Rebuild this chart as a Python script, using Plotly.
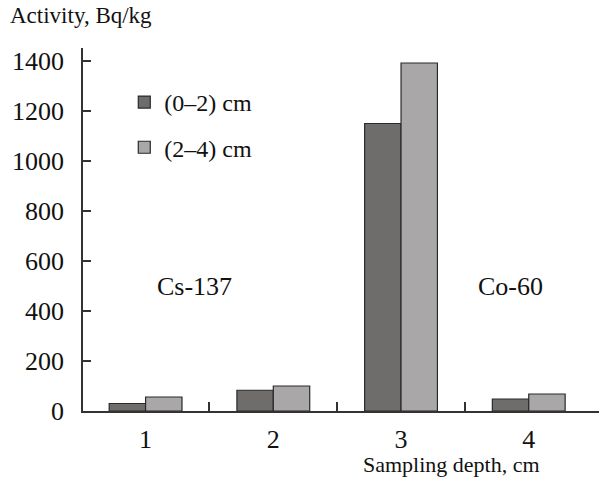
import plotly.graph_objects as go

categories = [1, 2, 3, 4]
depth_0_2 = [30, 83, 1150, 48]
depth_2_4 = [56, 100, 1392, 68]
series_names = ["(0–2) cm", "(2–4) cm"]
y_ticks = [0, 200, 400, 600, 800, 1000, 1200, 1400]

FONT = "Liberation Serif"
fig = go.Figure()
fig.add_bar(x=categories, y=depth_0_2, name=series_names[0], legendgroup="a",
            marker=dict(color="#6f6d6b", line=dict(color="#2a2a2a", width=1.2)))
fig.add_bar(x=categories, y=depth_2_4, name=series_names[1], legendgroup="b",
            marker=dict(color="#a9a7a8", line=dict(color="#2a2a2a", width=1.2)))

fig.update_layout(
    width=613, height=479,
    margin=dict(l=74, r=14, t=48, b=68),
    plot_bgcolor="white", paper_bgcolor="white",
    font=dict(family=FONT, size=26, color="#111"),
    barmode="group", bargap=0.43, bargroupgap=0,
    showlegend=True,
    legend=dict(x=0.08, y=0.912, xanchor="left", yanchor="top",
                font=dict(size=24), tracegroupgap=11, traceorder="grouped",
                bgcolor="rgba(0,0,0,0)", itemwidth=30),
    xaxis=dict(range=[0.51, 4.55], tickvals=categories, ticktext=[str(c) for c in categories],
               ticks="", showline=True, linecolor="#333", linewidth=1.5,
               showgrid=False, zeroline=False, ticklabelstandoff=4,
               minor=dict(tickvals=[1.5, 2.5, 3.5], ticks="inside", ticklen=9,
                          tickcolor="#333", tickwidth=1.5, showgrid=False)),
    yaxis=dict(range=[0, 1452], tickvals=y_ticks, ticks="inside", ticklen=8,
               tickcolor="#333", tickwidth=1.5, showline=True, linecolor="#333",
               linewidth=1.5, showgrid=False, zeroline=False, ticklabelstandoff=12),
    annotations=[
        dict(text="Activity, Bq/kg", xref="paper", yref="paper", x=-0.146, y=1.09,
             xanchor="left", yanchor="middle", showarrow=False, font=dict(size=23)),
        dict(text="Sampling depth, cm", xref="paper", yref="paper", x=0.89, y=-0.108,
             xanchor="right", yanchor="top", showarrow=False, font=dict(size=22)),
        dict(text="Cs-137", xref="x", yref="y", x=1.38, y=500, showarrow=False,
             font=dict(size=26)),
        dict(text="Co-60", xref="x", yref="y", x=3.86, y=500, showarrow=False,
             font=dict(size=26)),
    ],
)

fig.write_html("out.html")
